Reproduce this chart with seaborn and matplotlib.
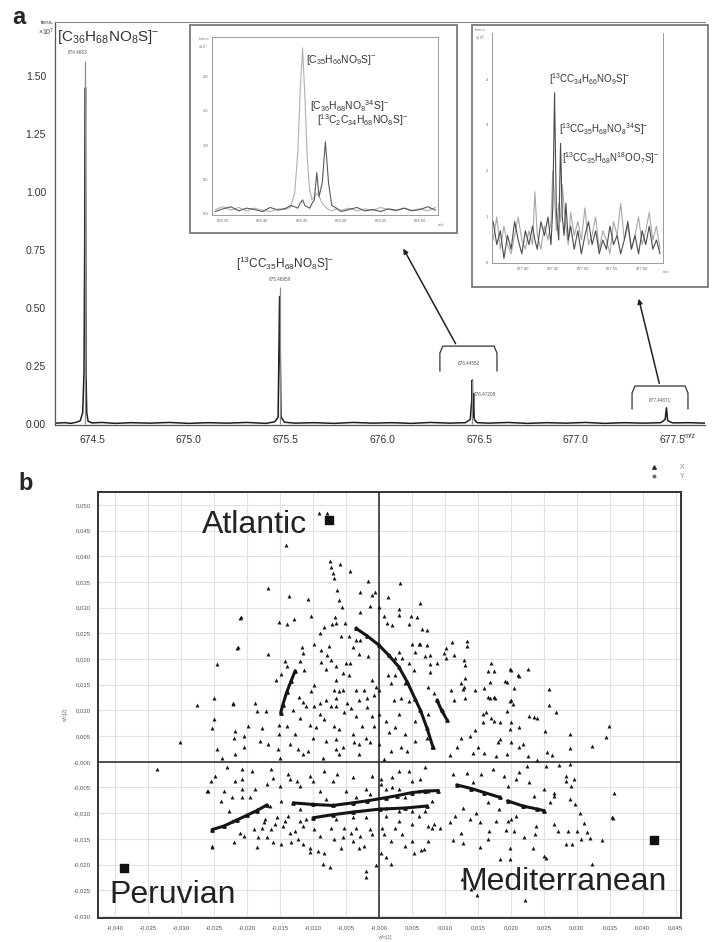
import matplotlib

matplotlib.use("Agg")

import matplotlib.pyplot as plt
import pandas as pd
import seaborn as sns
from matplotlib.lines import Line2D
from matplotlib.patches import Rectangle
from matplotlib.ticker import FuncFormatter, MultipleLocator

sns.set_style("white")
plt.rcParams["font.family"] = ["Liberation Sans", "DejaVu Sans"]
plt.rcParams["mathtext.fontset"] = "custom"
plt.rcParams["mathtext.rm"] = "Liberation Sans"
plt.rcParams["mathtext.it"] = "Liberation Sans:italic"
plt.rcParams["mathtext.bf"] = "Liberation Sans:bold"
plt.rcParams["mathtext.default"] = "regular"

# ---------------- panel a: full spectrum (intensity x10^7) ----------------
main_mz = [674.309, 674.36, 674.39, 674.42, 674.44, 674.452, 674.459, 674.4635, 674.4663, 674.469,
           674.473, 674.48, 674.50, 674.55, 674.62, 674.70, 674.80, 674.90, 675.00, 675.10,
           675.20, 675.30, 675.40, 675.445, 675.462, 675.4696, 675.477, 675.495, 675.55, 675.65,
           675.75, 675.85, 675.95, 676.05, 676.15, 676.25, 676.35, 676.43, 676.455, 676.4625,
           676.4655, 676.4685, 676.472, 676.4755, 676.49, 676.55, 676.65, 676.75, 676.85, 676.95,
           677.05, 677.15, 677.25, 677.35, 677.44, 677.462, 677.4687, 677.475, 677.50, 677.58,
           677.668]
main_int = [0.004, 0.006, 0.003, 0.008, 0.015, 0.05, 0.22, 0.95, 1.45, 0.22,
            0.05, 0.012, 0.005, 0.007, 0.003, 0.006, 0.004, 0.007, 0.003, 0.006,
            0.004, 0.007, 0.003, 0.01, 0.03, 0.55, 0.03, 0.008, 0.004, 0.006,
            0.003, 0.007, 0.004, 0.006, 0.003, 0.007, 0.004, 0.006, 0.02, 0.10,
            0.19, 0.03, 0.13, 0.02, 0.006, 0.004, 0.007, 0.003, 0.006, 0.004,
            0.007, 0.003, 0.006, 0.004, 0.006, 0.02, 0.07, 0.015, 0.005, 0.006,
            0.004]
apex_mz = [674.4663, 675.4696, 676.4655]
apex_top = [1.565, 0.59, 0.19]

# ---------------- inset 1 (x10^7) ----------------
ins1_mz = [676.340, 676.350, 676.360, 676.370, 676.380, 676.390, 676.400, 676.410, 676.420, 676.430,
           676.436, 676.441, 676.445, 676.448, 676.451, 676.454, 676.457, 676.460, 676.463, 676.466,
           676.469, 676.472, 676.476, 676.480, 676.484, 676.488, 676.494, 676.500, 676.510, 676.520,
           676.530, 676.540, 676.550, 676.560, 676.570, 676.580, 676.590, 676.600, 676.610, 676.620]
ins1_light = [0.06, 0.10, 0.05, 0.09, 0.04, 0.08, 0.05, 0.03, 0.07, 0.06,
              0.10, 0.30, 0.90, 1.80, 2.42, 1.70, 0.80, 0.35, 0.20, 0.25,
              0.30, 0.25, 0.15, 0.10, 0.06, 0.04, 0.07, 0.05, 0.08, 0.04,
              0.07, 0.05, 0.09, 0.06, 0.04, 0.08, 0.05, 0.07, 0.04, 0.09]
ins1_dark = [0.03, 0.07, 0.10, 0.04, 0.08, 0.06, 0.03, 0.09, 0.05, 0.08,
             0.12, 0.10, 0.08, 0.15, 0.20, 0.12, 0.10, 0.08, 0.15, 0.20,
             0.60, 0.25, 0.45, 1.05, 0.45, 0.12, 0.08, 0.03, 0.06, 0.09,
             0.04, 0.06, 0.03, 0.07, 0.05, 0.08, 0.04, 0.06, 0.10, 0.05]

# ---------------- inset 2 (x10^5) ----------------
ins2_mz = [677.350, 677.356, 677.362, 677.368, 677.374, 677.380, 677.386, 677.392, 677.398, 677.404,
           677.410, 677.416, 677.420, 677.424, 677.430, 677.436, 677.442, 677.447, 677.450, 677.453,
           677.456, 677.460, 677.463, 677.466, 677.469, 677.472, 677.476, 677.480, 677.486, 677.492,
           677.498, 677.504, 677.510, 677.516, 677.522, 677.528, 677.534, 677.540, 677.546, 677.552,
           677.558, 677.564, 677.570, 677.576, 677.582, 677.588, 677.594, 677.600, 677.606, 677.612,
           677.618, 677.624, 677.630]
ins2_dark = [0.9, 0.4, 0.7, 0.1, 0.6, 0.3, 0.9, 0.5, 0.2, 0.7,
             0.4, 0.8, 0.5, 0.3, 0.9, 0.6, 1.0, 0.4, 1.2, 3.7,
             1.1, 0.5, 2.6, 1.0, 0.6, 1.3, 0.5, 0.8, 0.3, 0.7,
             0.2, 0.6, 0.9, 0.4, 0.7, 0.2, 0.5, 0.3, 0.8, 0.4,
             0.6, 0.2, 0.5, 0.9, 0.3, 0.6, 0.2, 0.7, 0.4, 0.8,
             0.3, 0.5, 0.2]
ins2_light = [0.5, 1.0, 0.3, 0.8, 0.4, 0.2, 0.6, 1.0, 0.5, 0.3,
              0.7, 0.4, 1.55, 0.6, 0.3, 0.8, 0.5, 0.9, 2.0, 1.4,
              0.7, 1.3, 0.9, 1.7, 1.2, 0.8, 0.4, 1.1, 0.6, 0.9,
              0.5, 1.2, 0.4, 0.6, 1.0, 0.3, 0.7, 0.5, 0.2, 0.9,
              0.6, 1.3, 0.5, 0.8, 0.3, 0.6, 1.0, 0.4, 0.7, 1.1,
              0.5, 0.8, 0.3]

# ---------------- panel b: loadings w*c[1] / w*c[2] ----------------
loading_pts = [
    (-0.0091, 0.0484), (-0.0079, 0.0485), (-0.0141, 0.0421),
    (-0.0074, 0.0390), (-0.0072, 0.0380), (-0.0070, 0.0367), (-0.0068, 0.0357), (-0.0063, 0.0335),
    (-0.0060, 0.0315), (-0.0056, 0.0301), (-0.0059, 0.0385), (-0.0044, 0.0372),
    (-0.0168, 0.0339), (-0.0137, 0.0322), (-0.0107, 0.0316), (-0.0209, 0.0281), (-0.0152, 0.0272),
    (-0.0140, 0.0268), (-0.0129, 0.0278), (-0.0103, 0.0283), (-0.0066, 0.0281), (-0.0071, 0.0268),
    (-0.0065, 0.0270), (-0.0051, 0.0270),
    (-0.0016, 0.0352), (-0.0029, 0.0330), (-0.0011, 0.0325), (-0.0006, 0.0330), (-0.0013, 0.0304),
    (0.0000, 0.0302), (0.0013, 0.0320), (0.0032, 0.0348), (0.0063, 0.0309),
    (-0.0028, 0.0292), (0.0008, 0.0284), (0.0012, 0.0270), (0.0020, 0.0267), (0.0030, 0.0297),
    (0.0030, 0.0285), (0.0048, 0.0284), (0.0058, 0.0281), (0.0045, 0.0268), (0.0065, 0.0258),
    (0.0073, 0.0257),
    (-0.0083, 0.0263), (-0.0090, 0.0251), (-0.0099, 0.0230), (-0.0088, 0.0218), (-0.0076, 0.0225),
    (-0.0058, 0.0245), (-0.0046, 0.0244), (-0.0035, 0.0237), (-0.0029, 0.0237), (-0.0040, 0.0224),
    (-0.0030, 0.0210), (-0.0017, 0.0206),
    (-0.0214, 0.0224), (-0.0168, 0.0209), (-0.0245, 0.0190), (-0.0117, 0.0224), (-0.0115, 0.0211),
    (-0.0120, 0.0197), (-0.0143, 0.0197), (-0.0139, 0.0187), (-0.0149, 0.0170), (-0.0156, 0.0159),
    (-0.0113, 0.0179), (-0.0088, 0.0195), (-0.0079, 0.0207), (-0.0072, 0.0198), (-0.0080, 0.0180),
    (-0.0065, 0.0187), (-0.0050, 0.0192), (-0.0044, 0.0192), (-0.0055, 0.0172), (-0.0045, 0.0169),
    (-0.0065, 0.0160), (-0.0098, 0.0150), (-0.0103, 0.0137),
    (-0.0250, 0.0124), (-0.0221, 0.0115), (-0.0188, 0.0115), (-0.0121, 0.0127), (-0.0115, 0.0117),
    (-0.0090, 0.0114), (-0.0080, 0.0120), (-0.0068, 0.0140), (-0.0060, 0.0137), (-0.0054, 0.0139),
    (-0.0065, 0.0124), (-0.0048, 0.0114), (-0.0035, 0.0139), (-0.0030, 0.0120), (-0.0023, 0.0139),
    (-0.0018, 0.0124), (-0.0010, 0.0159), (-0.0005, 0.0146), (-0.0008, 0.0130), (0.0000, 0.0139),
    (0.0013, 0.0169), (0.0018, 0.0153), (0.0025, 0.0169), (0.0030, 0.0213), (0.0025, 0.0202),
    (0.0035, 0.0202), (0.0046, 0.0192), (0.0053, 0.0179), (0.0050, 0.0229), (0.0061, 0.0229),
    (0.0073, 0.0227), (0.0055, 0.0214), (0.0078, 0.0208), (0.0088, 0.0192), (0.0078, 0.0174),
    (0.0075, 0.0146), (0.0083, 0.0133), (0.0040, 0.0153), (0.0033, 0.0124), (0.0046, 0.0119),
    (0.0023, 0.0120), (0.0062, 0.0229), (0.0070, 0.0205), (0.0077, 0.0190),
    (0.0101, 0.0222), (0.0099, 0.0212), (0.0111, 0.0234), (0.0114, 0.0208), (0.0101, 0.0201),
    (0.0129, 0.0198), (0.0130, 0.0188), (0.0131, 0.0163), (0.0170, 0.0193), (0.0165, 0.0177),
    (0.0174, 0.0176), (0.0199, 0.0180), (0.0211, 0.0169), (0.0226, 0.0181), (0.0191, 0.0158),
    (0.0169, 0.0156), (0.0205, 0.0143), (0.0258, 0.0141), (0.0258, 0.0111), (0.0145, 0.0140),
    (0.0160, 0.0143), (0.0166, 0.0126), (0.0175, 0.0127), (0.0200, 0.0121), (0.0129, 0.0146),
    (0.0110, 0.0140), (0.0114, 0.0121), (0.0133, 0.0235), (0.0133, 0.0225),
    (0.0124, 0.0154), (0.0127, 0.0141), (0.0130, 0.0125), (0.0194, 0.0156), (0.0200, 0.0178),
    (0.0212, 0.0167), (0.0198, 0.0119), (0.0203, 0.0112), (0.0269, 0.0096), (0.0228, 0.0090),
    (0.0235, 0.0088), (0.0240, 0.0085), (0.0252, 0.0060), (0.0290, 0.0055), (0.0290, 0.0027),
    (0.0323, 0.0030), (0.0344, 0.0049), (0.0349, 0.0070), (0.0255, 0.0020), (0.0263, 0.0014),
    (0.0168, 0.0124), (0.0176, 0.0125),
    (0.0183, 0.0044), (0.0180, 0.0038), (0.0150, 0.0028), (0.0143, 0.0018), (0.0160, 0.0018),
    (0.0178, 0.0012), (0.0194, 0.0016), (0.0200, 0.0038), (0.0212, 0.0028), (0.0218, 0.0034),
    (0.0226, 0.0012), (0.0240, 0.0003), (0.0198, 0.0064), (0.0200, 0.0077), (0.0184, 0.0077),
    (0.0174, 0.0079), (0.0158, 0.0077), (0.0158, 0.0093), (0.0163, 0.0097), (0.0170, 0.0086),
    (0.0145, 0.0062), (0.0138, 0.0051), (0.0125, 0.0046), (0.0118, 0.0028), (0.0107, 0.0014),
    (0.0213, 0.0068), (0.0194, 0.0099),
    (0.0273, -0.0006), (0.0290, -0.0005), (0.0254, -0.0009), (0.0283, -0.0027), (0.0283, -0.0037),
    (0.0295, -0.0034), (0.0291, -0.0047), (0.0250, -0.0053), (0.0266, -0.0060), (0.0266, -0.0066),
    (0.0290, -0.0073), (0.0297, -0.0082), (0.0357, -0.0060), (0.0353, -0.0108), (0.0311, -0.0120),
    (0.0316, -0.0136), (0.0320, -0.0149), (0.0338, -0.0153), (0.0306, -0.0150), (0.0293, -0.0160),
    (0.0283, -0.0160), (0.0300, -0.0134), (0.0286, -0.0134), (0.0272, -0.0134), (0.0265, -0.0121),
    (0.0305, -0.0099), (0.0250, -0.0094), (0.0260, -0.0079), (0.0238, -0.0125), (0.0237, -0.0140),
    (0.0250, -0.0183), (0.0254, -0.0188), (0.0233, -0.0167), (0.0220, -0.0147), (0.0205, -0.0134),
    (0.0192, -0.0133), (0.0198, -0.0167), (0.0198, -0.0190), (0.0183, -0.0190), (0.0165, -0.0150),
    (0.0153, -0.0165), (0.0127, -0.0159), (0.0113, -0.0153), (0.0068, -0.0170),
    (0.0113, -0.0024), (0.0133, -0.0021), (0.0143, -0.0040), (0.0155, -0.0024), (0.0173, -0.0014),
    (0.0190, -0.0027), (0.0195, -0.0047), (0.0208, -0.0034), (0.0213, -0.0019), (0.0225, -0.0008),
    (0.0235, -0.0066), (0.0228, -0.0040), (0.0220, -0.0086), (0.0208, -0.0105), (0.0200, -0.0112),
    (0.0195, -0.0115), (0.0182, -0.0092), (0.0165, -0.0079), (0.0147, -0.0099), (0.0128, -0.0089),
    (0.0138, -0.0112), (0.0153, -0.0118), (0.0167, -0.0134), (0.0178, -0.0115), (0.0115, -0.0105),
    (0.0108, -0.0118), (0.0093, -0.0128), (0.0083, -0.0121), (0.0125, -0.0138),
    (0.0355, -0.0109), (0.0323, -0.0198), (0.0221, -0.0268), (0.0148, -0.0260), (0.0126, -0.0228),
    (0.0140, -0.0247),
    (-0.0336, -0.0014), (-0.0302, 0.0039), (-0.0276, 0.0111), (-0.0260, -0.0056), (-0.0253, -0.0165),
    (-0.0211, 0.0280), (-0.0215, 0.0222),
    (-0.0221, 0.0112), (-0.0171, 0.0099), (-0.0130, 0.0101), (-0.0110, 0.0109), (-0.0098, 0.0109),
    (-0.0073, 0.0109), (-0.0065, 0.0109), (-0.0043, 0.0104), (-0.0018, 0.0106), (-0.0250, 0.0083),
    (-0.0253, 0.0066), (-0.0218, 0.0059), (-0.0198, 0.0070), (-0.0204, 0.0051), (-0.0178, 0.0066),
    (-0.0151, 0.0072), (-0.0140, 0.0070), (-0.0128, 0.0054), (-0.0151, 0.0054), (-0.0105, 0.0072),
    (-0.0095, 0.0067), (-0.0083, 0.0083), (-0.0068, 0.0070), (-0.0053, 0.0096), (-0.0035, 0.0090),
    (-0.0025, 0.0070), (-0.0010, 0.0090), (0.0000, 0.0093), (-0.0008, 0.0070), (-0.0020, 0.0047),
    (-0.0065, 0.0044), (-0.0038, 0.0038), (-0.0013, 0.0038), (0.0000, 0.0034), (0.0015, 0.0057),
    (0.0025, 0.0067), (0.0040, 0.0054), (0.0018, 0.0021), (0.0033, 0.0028), (0.0043, 0.0021),
    (0.0055, 0.0041), (0.0073, 0.0047), (0.0080, 0.0028), (-0.0246, 0.0025), (-0.0219, 0.0015),
    (-0.0238, 0.0008), (-0.0168, 0.0034), (-0.0153, 0.0025), (-0.0150, 0.0008), (-0.0123, 0.0025),
    (-0.0115, 0.0015), (-0.0108, 0.0021), (-0.0085, 0.0008), (-0.0065, 0.0025), (-0.0060, 0.0015),
    (-0.0030, 0.0015), (0.0008, 0.0005),
    (-0.0255, -0.0037), (-0.0248, -0.0027), (-0.0230, -0.0011), (-0.0259, -0.0056), (-0.0235, -0.0056),
    (-0.0208, -0.0014), (-0.0208, -0.0034), (-0.0208, -0.0053), (-0.0208, -0.0069), (-0.0218, -0.0037),
    (-0.0193, -0.0018), (-0.0188, -0.0053), (-0.0223, -0.0069), (-0.0163, -0.0014), (-0.0160, -0.0031),
    (-0.0138, -0.0024), (-0.0135, -0.0034), (-0.0150, -0.0047), (-0.0120, -0.0047), (-0.0100, -0.0037),
    (-0.0084, -0.0018), (-0.0070, -0.0037), (-0.0063, -0.0024), (-0.0040, -0.0030), (-0.0020, -0.0053),
    (0.0003, -0.0034), (0.0010, -0.0053), (0.0020, -0.0050), (0.0030, -0.0053), (0.0050, -0.0037),
    (0.0063, -0.0034), (0.0075, -0.0056), (0.0030, -0.0018), (0.0045, -0.0018), (0.0070, -0.0011),
    (-0.0253, -0.0164), (-0.0220, -0.0157), (-0.0205, -0.0144), (-0.0185, -0.0166), (-0.0183, -0.0147),
    (-0.0170, -0.0147), (-0.0160, -0.0157), (-0.0148, -0.0160), (-0.0133, -0.0157), (-0.0115, -0.0160),
    (-0.0105, -0.0175), (-0.0105, -0.0168), (-0.0093, -0.0173), (-0.0083, -0.0177), (-0.0085, -0.0199),
    (-0.0074, -0.0204), (-0.0068, -0.0151), (-0.0058, -0.0167), (-0.0040, -0.0154), (-0.0030, -0.0167),
    (-0.0023, -0.0164), (-0.0020, -0.0212), (-0.0019, -0.0224), (-0.0004, -0.0201), (0.0003, -0.0177),
    (0.0010, -0.0186), (0.0019, -0.0198), (0.0040, -0.0164), (0.0053, -0.0177), (0.0064, -0.0172),
    (0.0075, -0.0125), (-0.0053, -0.0128), (-0.0035, -0.0128), (-0.0013, -0.0131), (0.0008, -0.0141),
    (0.0025, -0.0128), (0.0050, -0.0121), (-0.0223, -0.0115), (-0.0178, -0.0128), (-0.0163, -0.0131),
    (-0.0145, -0.0125), (-0.0128, -0.0134), (-0.0115, -0.0125), (-0.0173, -0.0112), (-0.0155, -0.0108),
    (-0.0138, -0.0105), (-0.0110, -0.0112), (-0.0065, -0.0112), (-0.0040, -0.0108), (-0.0020, -0.0108),
    (-0.0185, -0.0092), (-0.0165, -0.0086), (-0.0148, -0.0076), (-0.0120, -0.0092), (-0.0080, -0.0073),
    (-0.0035, -0.0069), (-0.0013, -0.0063), (0.0010, -0.0105), (0.0030, -0.0115), (0.0060, -0.0105),
    (0.0080, -0.0128),
    (-0.0210, -0.0138), (-0.0190, -0.0131), (-0.0175, -0.0118), (-0.0158, -0.0121), (-0.0143, -0.0115),
    (-0.0135, -0.0138), (-0.0120, -0.0115), (-0.0123, -0.0151), (-0.0098, -0.0131), (-0.0090, -0.0144),
    (-0.0073, -0.0128), (-0.0055, -0.0147), (-0.0043, -0.0138), (-0.0028, -0.0144), (-0.0010, -0.0141),
    (0.0004, -0.0128), (0.0018, -0.0154), (0.0035, -0.0141), (0.0050, -0.0154), (0.0075, -0.0154),
    (0.0010, -0.0089), (0.0030, -0.0095), (0.0050, -0.0095), (0.0070, -0.0095), (0.0040, -0.0069),
    (0.0060, -0.0056), (0.0080, -0.0076), (0.0020, -0.0030), (0.0003, -0.0043), (-0.0010, -0.0027),
    (-0.0050, -0.0056), (-0.0090, -0.0056), (-0.0105, -0.0027), (-0.0125, -0.0037), (-0.0170, -0.0043),
    (-0.0195, -0.0069), (-0.0240, -0.0076), (-0.0228, -0.0095),
    (-0.0185, 0.0099), (-0.0120, 0.0086), (-0.0090, 0.0093), (-0.0060, 0.0064), (-0.0040, 0.0054),
    (-0.0030, 0.0034), (-0.0055, 0.0028), (-0.0080, 0.0041), (-0.0100, 0.0047), (-0.0135, 0.0034),
    (-0.0180, 0.0041), (-0.0205, 0.0028), (-0.0220, 0.0047), (0.0030, 0.0093), (0.0055, 0.0080),
    (0.0075, 0.0093), (0.0010, 0.0080),
]

# dense chains of loadings
chain_left = [(-0.0149, 0.0095), (-0.0146, 0.0110), (-0.0140, 0.0135), (-0.0133, 0.0158), (-0.0127, 0.0177)]
chain_atlantic = [(-0.0035, 0.0260), (-0.0018, 0.0245), (0.0000, 0.0227), (0.0015, 0.0207),
                  (0.0030, 0.0185), (0.0043, 0.0155), (0.0055, 0.0122), (0.0063, 0.0100),
                  (0.0073, 0.0065), (0.0082, 0.0028)]
chain_inner = [(0.0088, 0.0120), (0.0095, 0.0100), (0.0103, 0.0082)]
band_left = [(-0.0253, -0.0132), (-0.0235, -0.0125), (-0.0215, -0.0113), (-0.0200, -0.0104),
             (-0.0185, -0.0095), (-0.0170, -0.0084)]
band_mid = [(-0.0130, -0.0080), (-0.0100, -0.0083), (-0.0070, -0.0085), (-0.0040, -0.0080),
            (-0.0018, -0.0076), (0.0010, -0.0070), (0.0027, -0.0066), (0.0050, -0.0060),
            (0.0070, -0.0057), (0.0090, -0.0056)]
band_low = [(-0.0100, -0.0109), (-0.0070, -0.0103), (-0.0040, -0.0098), (0.0002, -0.0092),
            (0.0040, -0.0090), (0.0073, -0.0086)]
band_right = [(0.0118, -0.0045), (0.0140, -0.0052), (0.0160, -0.0060), (0.0183, -0.0069)]
band_far = [(0.0195, -0.0076), (0.0218, -0.0086), (0.0240, -0.0092), (0.0250, -0.0095)]

origin_names = ["Atlantic", "Peruvian", "Mediterranean"]
origin_x = [-0.0076, -0.0386, 0.0417]
origin_y = [0.0471, -0.0206, -0.0152]

W, H = 713, 942


def fig_box(left, top, right, bottom):
    return [left / W, 1 - bottom / H, (right - left) / W, (bottom - top) / H]


fig = plt.figure(figsize=(W / 100, H / 100), dpi=100)

# ======================= panel a =======================
ax_a = fig.add_axes(fig_box(55, 22, 705, 425))
ax_a.set_zorder(0)
spec = pd.DataFrame({"mz": main_mz, "intensity": main_int})
sns.lineplot(data=spec, x="mz", y="intensity", ax=ax_a, color="#1e1e1e", lw=1.1,
             estimator=None, sort=False)
ax_a.vlines(apex_mz, 0, apex_top, color="#8c8c8c", lw=0.9)
ax_a.set_xlim(674.309, 677.668)
ax_a.set_ylim(-0.004, 1.733)
ax_a.set_xticks([674.5, 675.0, 675.5, 676.0, 676.5, 677.0, 677.5])
ax_a.set_yticks([0.0, 0.25, 0.5, 0.75, 1.0, 1.25, 1.5])
ax_a.xaxis.set_major_formatter(FuncFormatter(lambda v, p: f"{v:.1f}"))
ax_a.yaxis.set_major_formatter(FuncFormatter(lambda v, p: f"{v:.2f}"))
ax_a.xaxis.set_minor_locator(MultipleLocator(0.1))
ax_a.yaxis.set_minor_locator(MultipleLocator(0.05))
ax_a.tick_params(axis="both", which="major", labelsize=7.5, length=3, width=0.8,
                 color="#444", labelcolor="#333", direction="out")
ax_a.tick_params(axis="both", which="minor", length=1.5, width=0.6, color="#555", direction="out")
ax_a.tick_params(axis="x", pad=4)
ax_a.set_xlabel("")
ax_a.set_ylabel("")
ax_a.spines["right"].set_visible(False)
ax_a.spines["top"].set_color("#8a8a8a")
for side in ["left", "bottom"]:
    ax_a.spines[side].set_color("#555")
    ax_a.spines[side].set_linewidth(0.9)

ax_a.text(674.319, 1.668, r"[C$_{36}$H$_{68}$NO$_8$S]$^{-}$", fontsize=11, color="#333", va="center")
ax_a.text(674.428, 1.595, "674.4663", fontsize=3.3, color="#555", ha="center")
ax_a.text(675.497, 0.69, r"[$^{13}$CC$_{35}$H$_{68}$NO$_8$S]$^{-}$", fontsize=8.5, color="#333",
          ha="center", va="center")
ax_a.text(675.472, 0.615, "675.46959", fontsize=3.3, color="#555", ha="center")

# brackets with callouts
for left, right, top, foot, label, label_y in [
    (676.298, 676.593, 0.336, 0.228, "676.44552", 0.259),
    (677.291, 677.580, 0.164, 0.065, "677.44871", 0.100),
]:
    cut = 0.015
    ax_a.plot([left, left, left + cut, right - cut, right, right],
              [foot, top - 0.03, top, top, top - 0.03, foot], color="#333", lw=0.9)
    ax_a.text((left + right) / 2, label_y, label, fontsize=3.3, color="#555", ha="center", va="center")
ax_a.text(676.475, 0.129, "676.47208", fontsize=3.3, color="#555", ha="left", va="center")
ax_a.annotate("", xy=(676.102, 0.767), xytext=(676.386, 0.336),
              arrowprops=dict(arrowstyle="-|>", color="#222", lw=1.1, mutation_scale=7))
ax_a.annotate("", xy=(677.322, 0.552), xytext=(677.435, 0.164),
              arrowprops=dict(arrowstyle="-|>", color="#222", lw=1.1, mutation_scale=7))

fig.text(12 / W, 1 - 17 / H, "a", fontsize=17, fontweight="bold", va="center", ha="left")
fig.text(48 / W, 1 - 22 / H, "tens.", fontsize=4.5, color="#444", va="center", ha="center")
fig.text(46 / W, 1 - 32 / H, r"$\times$10$^{7}$", fontsize=5, color="#444", va="center", ha="center")
fig.text(690 / W, 1 - 437 / H, "m/z", fontsize=5.5, color="#444", va="center", ha="center")

# ======================= insets =======================
for box in [(190, 25, 457, 233), (472, 25, 708, 287)]:
    l, t, r, b = box
    fig.patches.append(Rectangle((l / W, 1 - b / H), (r - l) / W, (b - t) / H,
                                 transform=fig.transFigure, facecolor="white",
                                 edgecolor="#7a7a7a", lw=1.3, zorder=2))

ax_i1 = fig.add_axes(fig_box(212, 37, 438, 215))
ax_i1.set_zorder(3)
ins1 = pd.DataFrame({"mz": ins1_mz, "light": ins1_light, "dark": ins1_dark})
sns.lineplot(data=ins1, x="mz", y="light", ax=ax_i1, color="#b0b0b0", lw=0.8, estimator=None, sort=False)
sns.lineplot(data=ins1, x="mz", y="dark", ax=ax_i1, color="#5a5a5a", lw=0.8, estimator=None, sort=False)
ax_i1.set_xlim(676.336, 676.623)
ax_i1.set_ylim(-0.02, 2.58)
ax_i1.set_xticks([676.35, 676.40, 676.45, 676.50, 676.55, 676.60])
ax_i1.set_yticks([0.0, 0.5, 1.0, 1.5, 2.0])
ax_i1.xaxis.set_major_formatter(FuncFormatter(lambda v, p: f"{v:.2f}"))
ax_i1.yaxis.set_major_formatter(FuncFormatter(lambda v, p: f"{v:.1f}"))
ax_i1.text(1.0, -0.045, "m/z", transform=ax_i1.transAxes, fontsize=3, color="#777", ha="left", va="top")
ax_i1.text(-0.06, 1.0, "Intens.\n" + r"x10$^7$", transform=ax_i1.transAxes, fontsize=2.8,
           color="#777", ha="left", va="top")
ax_i1.text(676.455, 2.24, r"[C$_{35}$H$_{66}$NO$_9$S]$^{-}$", fontsize=7.5, color="#333", va="center")
ax_i1.text(676.461, 1.57, r"[C$_{36}$H$_{68}$NO$_8$$^{34}$S]$^{-}$", fontsize=7.5, color="#333", va="center")
ax_i1.text(676.469, 1.36, r"[$^{13}$C$_2$C$_{34}$H$_{68}$NO$_8$S]$^{-}$", fontsize=7.5, color="#333", va="center")

ax_i2 = fig.add_axes(fig_box(492, 33, 663, 263))
ax_i2.set_zorder(3)
ins2 = pd.DataFrame({"mz": ins2_mz, "light": ins2_light, "dark": ins2_dark})
sns.lineplot(data=ins2, x="mz", y="light", ax=ax_i2, color="#a8a8a8", lw=0.8, estimator=None, sort=False)
sns.lineplot(data=ins2, x="mz", y="dark", ax=ax_i2, color="#4a4a4a", lw=0.8, estimator=None, sort=False)
ax_i2.set_xlim(677.348, 677.635)
ax_i2.set_ylim(0, 5.0)
ax_i2.set_xticks([677.40, 677.45, 677.50, 677.55, 677.60])
ax_i2.set_yticks([0, 1, 2, 3, 4])
ax_i2.xaxis.set_major_formatter(FuncFormatter(lambda v, p: f"{v:.2f}"))
ax_i2.spines["top"].set_visible(False)
ax_i2.text(1.0, -0.03, "m/z", transform=ax_i2.transAxes, fontsize=3, color="#777", ha="left", va="top")
ax_i2.text(-0.1, 1.02, "Intens.\n" + r"x10$^5$", transform=ax_i2.transAxes, fontsize=2.8,
           color="#777", ha="left", va="top")
ax_i2.text(677.443, 4.0, r"[$^{13}$CC$_{34}$H$_{66}$NO$_9$S]$^{-}$", fontsize=7, color="#333", va="center")
ax_i2.text(677.461, 2.92, r"[$^{13}$CC$_{35}$H$_{68}$NO$_8$$^{34}$S]$^{-}$", fontsize=7, color="#333", va="center")
ax_i2.text(677.466, 2.28, r"[$^{13}$CC$_{35}$H$_{68}$N$^{18}$OO$_7$S]$^{-}$", fontsize=7, color="#333", va="center")

for ax_in in [ax_i1, ax_i2]:
    ax_in.set_facecolor("white")
    ax_in.set_xlabel("")
    ax_in.set_ylabel("")
    ax_in.tick_params(axis="both", labelsize=3, length=1.2, width=0.5, pad=1.5,
                      color="#888", labelcolor="#666")
    for spine in ax_in.spines.values():
        spine.set_color("#9a9a9a")
        spine.set_linewidth(0.7)

# ======================= panel b =======================
ax_b = fig.add_axes(fig_box(98, 492, 681, 918))
loadings = pd.DataFrame(loading_pts, columns=["wc1", "wc2"])
ax_b.grid(True, color="#e2e2e2", lw=0.8)
ax_b.set_axisbelow(True)
ax_b.axhline(0, color="#333", lw=1.2, zorder=1)
ax_b.axvline(0, color="#333", lw=1.2, zorder=1)
sns.scatterplot(data=loadings, x="wc1", y="wc2", ax=ax_b, marker="^", s=8, color="#151515",
                linewidth=0, zorder=3)
for chain in [chain_left, chain_atlantic, chain_inner, band_left, band_mid, band_low, band_right, band_far]:
    cx, cy = zip(*chain)
    ax_b.plot(cx, cy, color="#151515", lw=2.2, marker="^", ms=2.4, solid_capstyle="round", zorder=3)
ax_b.scatter(origin_x, origin_y, marker="s", s=26, color="#111", zorder=4)

ax_b.text(-0.0268, 0.0446, origin_names[0], fontsize=23, color="#222", va="baseline", ha="left")
ax_b.text(-0.0408, -0.0274, origin_names[1], fontsize=23, color="#222", va="baseline", ha="left")
ax_b.text(0.0123, -0.0249, origin_names[2], fontsize=23, color="#222", va="baseline", ha="left")

ax_b.set_xlim(-0.0426, 0.0458)
ax_b.set_ylim(-0.0304, 0.0525)
ax_b.xaxis.set_major_locator(MultipleLocator(0.005))
ax_b.yaxis.set_major_locator(MultipleLocator(0.005))
ax_b.xaxis.set_minor_locator(MultipleLocator(0.0025))
ax_b.yaxis.set_minor_locator(MultipleLocator(0.0025))
comma_fmt = FuncFormatter(lambda v, p: "-0,000" if abs(v) < 1e-9 else f"{v:.3f}".replace(".", ","))
ax_b.xaxis.set_major_formatter(comma_fmt)
ax_b.yaxis.set_major_formatter(comma_fmt)
ax_b.tick_params(axis="both", which="major", labelsize=4.3, length=3, width=0.9, color="#333",
                 labelcolor="#555", direction="out", pad=2)
ax_b.tick_params(axis="both", which="minor", length=2, width=0.7, color="#333", direction="out")
ax_b.set_xlabel("")
ax_b.set_ylabel("")
for spine in ax_b.spines.values():
    spine.set_color("#333")
    spine.set_linewidth(1.4)

fig.text(18 / W, 1 - 483 / H, "b", fontsize=17, fontweight="bold", va="center", ha="left")
fig.text(385 / W, 1 - 937 / H, "w*c[1]", fontsize=3.5, color="#666", ha="center", va="center")
fig.text(66 / W, 1 - 715 / H, "w*c[2]", fontsize=3.5, color="#666", ha="center", va="center", rotation=90)

legend_handles = [
    Line2D([], [], marker="^", ls="", color="#333", ms=2.6, label="X"),
    Line2D([], [], marker="o", ls="", color="#666", ms=1.8, label="Y"),
]
fig.legend(handles=legend_handles, loc="upper right", bbox_to_anchor=(688 / W, 1 - 461 / H),
           frameon=False, fontsize=5, handletextpad=3.2, labelspacing=0.25, labelcolor="#888",
           borderpad=0, handlelength=1)

fig.savefig("out.png", dpi=100)
plt.close(fig)
